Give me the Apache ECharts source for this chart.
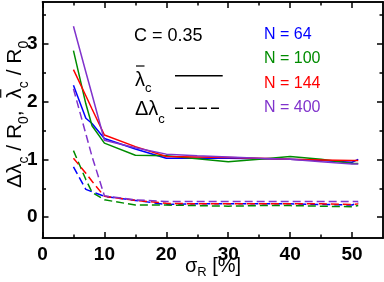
<!DOCTYPE html>
<html><head><meta charset="utf-8">
<script src="https://cdn.jsdelivr.net/npm/echarts@6/dist/echarts.min.js"></script>
<style>html,body{margin:0;padding:0;background:#fff}#c{width:384px;height:282px}</style>
</head><body><div id="c"></div>
<script>
// ---- data ----
const sigma = [5, 7, 8, 10, 15, 20, 25, 30, 35, 40, 45, 50, 51];
// mean lambda_c / R0 (solid)
const meanN64  = [2.28, 1.71, 1.62, 1.36, 1.18, 1.02, 1.02, 1.02, 1.01, 1.00, 0.98, 0.95, 1.00];
const meanN100 = [2.88, 1.96, 1.58, 1.28, 1.07, 1.06, 1.01, 0.96, 1.00, 1.05, 1.00, 0.93, 0.93];
const meanN144 = [2.55, 2.10, 1.87, 1.42, 1.22, 1.05, 1.04, 1.03, 1.02, 1.00, 0.99, 0.98, 0.98];
const meanN400 = [3.30, 2.51, 2.12, 1.33, 1.20, 1.09, 1.06, 1.04, 1.02, 1.00, 0.96, 0.92, 0.92];
// delta lambda_c / R0 (dashed)
const deltaN64  = [0.87, 0.48, 0.44, 0.36, 0.29, 0.22, 0.23, 0.23, 0.23, 0.23, 0.22, 0.21, 0.25];
const deltaN100 = [1.15, 0.65, 0.43, 0.30, 0.21, 0.21, 0.20, 0.19, 0.20, 0.20, 0.19, 0.18, 0.20];
const deltaN144 = [1.02, 0.76, 0.62, 0.36, 0.29, 0.24, 0.23, 0.23, 0.23, 0.23, 0.23, 0.22, 0.23];
const deltaN400 = [2.22, 1.44, 1.05, 0.37, 0.30, 0.27, 0.27, 0.27, 0.27, 0.27, 0.27, 0.27, 0.27];
const seriesNames = ['N = 64', 'N = 100', 'N = 144', 'N = 400'];
const xMajor = [0, 10, 20, 30, 40, 50];
const xMinor = [5, 15, 25, 35, 45];
const yMajor = [0, 1, 2, 3];
const yMinor = [0.5, 1.5, 2.5, 3.5];

const colors = ['#0000ff', '#008c00', '#ff0000', '#8033cc'];
const FAM = '"Liberation Sans", Arial, Helvetica, sans-serif';
const X0 = 0, X1 = 55, Y0 = -0.36, Y1 = 3.72;

const chart = echarts.init(document.getElementById('c'), null, {renderer: 'canvas'});

function xAx(pos, vals, len, labels) {
  return {type: 'value', position: pos, min: X0, max: X1,
    axisLine: {show: true, onZero: false, lineStyle: {color: '#000', width: 1.5}},
    axisTick: {show: true, inside: true, length: len, customValues: vals, lineStyle: {color: '#000', width: 1.5}},
    axisLabel: {show: labels, customValues: xMajor, margin: 7, color: '#000', fontFamily: FAM, fontWeight: 'bold', fontSize: 19},
    splitLine: {show: false}};
}
function yAx(pos, vals, len, labels) {
  return {type: 'value', position: pos, min: Y0, max: Y1,
    axisLine: {show: true, onZero: false, lineStyle: {color: '#000', width: 1.5}},
    axisTick: {show: true, inside: true, length: len, customValues: vals, lineStyle: {color: '#000', width: 1.5}},
    axisLabel: {show: labels, customValues: yMajor, margin: 5, color: '#000', fontFamily: FAM, fontWeight: 'bold', fontSize: 19},
    splitLine: {show: false}};
}

const meanSets = [meanN64, meanN100, meanN144, meanN400];
const deltaSets = [deltaN64, deltaN100, deltaN144, deltaN400];
const series = [];
[0, 1, 2, 3].forEach(i => {
  series.push({type: 'line', name: seriesNames[i] + ' mean', showSymbol: false, symbol: 'none',
    data: sigma.map((x, k) => [x, meanSets[i][k]]),
    lineStyle: {color: colors[i], width: 1.5}, z: 3});
  series.push({type: 'line', name: seriesNames[i] + ' delta', showSymbol: false, symbol: 'none',
    data: sigma.map((x, k) => [x, deltaSets[i][k]]),
    lineStyle: {color: colors[i], width: 1.5, type: [8, 4]}, z: 3});
});

// text layout helper
const mctx = document.createElement('canvas').getContext('2d');
function measure(t, size, weight) {
  mctx.font = (weight || 'normal') + ' ' + size + 'px ' + FAM;
  return mctx.measureText(t).width;
}
function row(parts, x0, yMid, color) {
  let x = x0; const els = [];
  parts.forEach(p => {
    els.push({type: 'text', x: x, y: yMid + (p.dy || 0),
      style: {text: p.t, font: 'normal ' + p.size + 'px ' + FAM, fill: color || '#000', align: 'left', verticalAlign: 'middle'}});
    p.x = x; p.w = measure(p.t, p.size);
    x += p.w;
  });
  return {els: els, width: x - x0, parts: parts};
}

const graphics = [];
// C = 0.35
graphics.push(...row([{t: 'C = 0.35', size: 18}], 134, 36).els);
// N labels
const nY = [35, 59, 83.2, 107.2];
seriesNames.forEach((n, i) => graphics.push(...row([{t: n, size: 16}], 264, nY[i], colors[i]).els));
// legend: lambda bar
const lb = row([{t: 'λ', size: 20}, {t: 'c', size: 13, dy: 8}], 135, 80.5);
graphics.push(...lb.els);
graphics.push({type: 'line', shape: {x1: 136, y1: 66, x2: 144.5, y2: 66}, style: {stroke: '#000', lineWidth: 1.2}});
graphics.push({type: 'line', shape: {x1: 175, y1: 75.7, x2: 222.7, y2: 75.7}, style: {stroke: '#000', lineWidth: 1.5}});
const ld = row([{t: 'Δλ', size: 20}, {t: 'c', size: 13, dy: 10}], 135, 109.4);
graphics.push(...ld.els);
graphics.push({type: 'line', shape: {x1: 175, y1: 108.3, x2: 222.7, y2: 108.3}, style: {stroke: '#000', lineWidth: 1.5, lineDash: [8, 4]}});
// x axis title
const xt = row([{t: 'σ', size: 20}, {t: 'R', size: 13, dy: 6.3}, {t: ' [%]', size: 20}], 0, 266);
const xStart = 213 - xt.width / 2;
const xt2 = row([{t: 'σ', size: 20}, {t: 'R', size: 13, dy: 6.3}, {t: ' [%]', size: 20}], xStart, 266);
graphics.push(...xt2.els);
// y axis title (rotated)
const F = 21, S = 14, SD = 9;
const yparts = [{t: 'Δλ', size: F}, {t: 'c', size: S, dy: SD}, {t: ' / R', size: F}, {t: '0', size: S, dy: SD},
  {t: ',  ', size: F}, {t: 'λ', size: F}, {t: 'c', size: S, dy: SD}, {t: ' / R', size: F}, {t: '0', size: S, dy: SD}];
const yt = row(yparts, 0, 0);
const lam = yt.parts[5];
const ych = yt.els.slice();
ych.push({type: 'line', shape: {x1: lam.x + 1, y1: -0.68 * F, x2: lam.x + lam.w - 1, y2: -0.68 * F}, style: {stroke: '#000', lineWidth: 1.2}});
graphics.push({type: 'group', x: 15, y: 114.4 + yt.width / 2, rotation: Math.PI / 2, children: ych});

chart.setOption({
  animation: false,
  backgroundColor: '#fff',
  grid: {left: 42.5, right: 1, top: 2, bottom: 44, containLabel: false},
  xAxis: [xAx('bottom', xMajor, 6, true), xAx('bottom', xMinor, 3.5, false), xAx('top', xMajor, 6, false), xAx('top', xMinor, 3.5, false)],
  yAxis: [yAx('left', yMajor, 6, true), yAx('left', yMinor, 3.5, false), yAx('right', yMajor, 6, false), yAx('right', yMinor, 3.5, false)],
  series: series,
  graphic: graphics
});
</script></body></html>
